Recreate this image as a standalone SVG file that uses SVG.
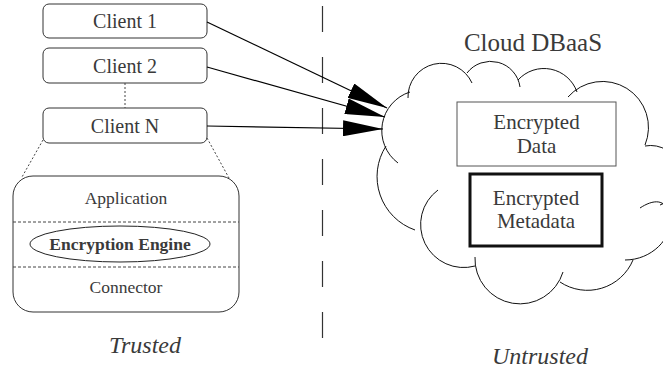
<svg xmlns="http://www.w3.org/2000/svg" width="663" height="370" viewBox="0 0 663 370">
<defs>
<marker id="ah" markerUnits="userSpaceOnUse" markerWidth="40" markerHeight="16" refX="40" refY="8" orient="auto"><path d="M0,0 L40,8 L0,16 z" fill="#000"/></marker>
</defs>
<style>
text{font-family:"Liberation Serif","Times New Roman",serif;fill:#3a3a3a;text-anchor:middle}
.box{fill:#fff;stroke:#333;stroke-width:1}
.lbl{font-size:20px}
.sm{font-size:17.5px}
.big{font-size:21px}
.it{font-size:24px;font-style:italic}
.lobe{fill:none;stroke:#111;stroke-width:1}
.arrow{stroke:#000;stroke-width:1.2;fill:none;marker-end:url(#ah)}
.dot{stroke:#444;stroke-width:1;stroke-dasharray:2 2;fill:none}
.sep{stroke:#444;stroke-width:1;stroke-dasharray:3 2;fill:none}
</style>
<rect width="663" height="370" fill="#fff"/>

<g id="boundary">
<line x1="322.5" y1="6" x2="322.5" y2="362" stroke="#333" stroke-width="1.2" stroke-dasharray="26 25"/>
</g>

<g id="client1">
<rect class="box" x="43" y="4" width="164" height="34" rx="6"/>
<text class="lbl" x="125" y="28">Client 1</text>
</g>
<g id="client2">
<rect class="box" x="43" y="48" width="164" height="35" rx="6"/>
<text class="lbl" x="125" y="73">Client 2</text>
</g>
<g id="clientN">
<rect class="box" x="43" y="108" width="164" height="35" rx="6"/>
<text class="lbl" x="125" y="133">Client N</text>
</g>

<g id="client-stack">
<rect class="box" x="13" y="176" width="226" height="136" rx="20"/>
<line class="sep" x1="13" y1="222" x2="239" y2="222"/>
<line class="sep" x1="13" y1="267" x2="239" y2="267"/>
<text class="sm" x="126" y="204">Application</text>
<ellipse cx="120" cy="244" rx="90" ry="18" fill="none" stroke="#222" stroke-width="1"/>
<text class="sm" x="120" y="250" font-weight="bold">Encryption Engine</text>
<text class="sm" x="126" y="293">Connector</text>
</g>

<g id="cloud">
<text x="533" y="51" font-size="25">Cloud DBaaS</text>
<path class="lobe" d="M408,98 A33.5,33.5 0 0 1 472,83"/>
<path class="lobe" d="M467,73 A29.7,29.7 0 0 1 520,87"/>
<path class="lobe" d="M518,80 A35,35 0 0 1 577,92"/>
<path class="lobe" d="M568,97 A46,46 0 0 1 645,145"/>
<path class="lobe" d="M645,146 A30.5,30.5 0 0 1 660,205"/>
<path class="lobe" d="M640,208 C652,200 668,196 670,220 C672,238 652,260 625,260"/>
<path class="lobe" d="M633,260 A49.4,49.4 0 0 1 560,282"/>
<path class="lobe" d="M563,272 A45,45 0 0 1 475,257"/>
<path class="lobe" d="M475,266 A43,43 0 0 1 438,190"/>
<path class="lobe" d="M415,230 A56.6,56.6 0 0 1 386,146"/>
<path class="lobe" d="M398,163 A40.5,40.5 0 0 1 410,92"/>
</g>

<g id="encrypted-data">
<rect x="457" y="102" width="159" height="64" fill="#fff" stroke="#555" stroke-width="1"/>
<text class="big" x="536.5" y="129">Encrypted</text>
<text class="big" x="536.5" y="153">Data</text>
</g>
<g id="encrypted-metadata">
<rect x="470" y="174" width="132" height="72" fill="#fff" stroke="#111" stroke-width="3"/>
<text class="big" x="536" y="205">Encrypted</text>
<text class="big" x="536" y="228">Metadata</text>
</g>

<g id="zone-labels">
<text class="it" x="145" y="353">Trusted</text>
<text class="it" x="540" y="364">Untrusted</text>
</g>

<g id="connectors">
<line class="dot" x1="125" y1="83" x2="125" y2="108"/>
<line class="dot" x1="43" y1="140" x2="22" y2="177"/>
<line class="dot" x1="207" y1="138" x2="229" y2="178"/>
<path class="arrow" d="M207,22 L387,108"/>
<path class="arrow" d="M207,67 L385,117"/>
<path class="arrow" d="M207,126 L383,129"/>
</g>
</svg>
